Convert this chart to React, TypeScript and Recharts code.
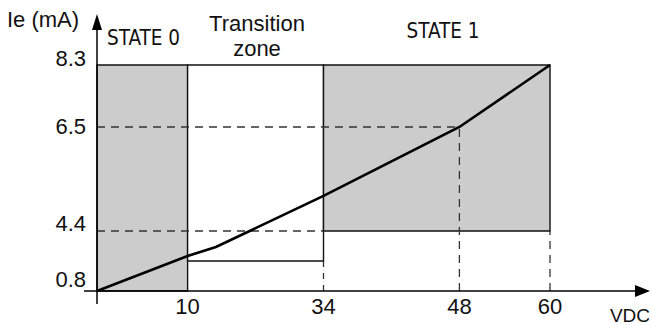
import React from "react";
import {
  ComposedChart,
  Line,
  XAxis,
  YAxis,
  ReferenceArea,
  ReferenceLine,
  ReferenceDot,
} from "recharts";

// Real values on the (schematic, non-linear) axes
const xBreaks = [0, 10, 34, 48, 60];
const xSlots = [0, 2, 5, 8, 10];
const yBreaks = [0.8, 4.4, 6.5, 8.3];
const ySlots = [0, 6, 16.4, 22.6];

const xTickLabels = [10, 34, 48, 60];
const yTickLabels = [0.8, 4.4, 6.5, 8.3];

// Current curve Ie vs VDC
const curveVdc = [0, 10, 15, 34, 48, 60];
const curveIe = [0.8, 2.9, 3.44, 5.11, 6.5, 8.3];

// zones
const state0 = { x1: 0, x2: 10, y1: 0.8, y2: 8.3 };
const transition = { x1: 10, x2: 34, y1: 2.6, y2: 8.3 };
const state1 = { x1: 34, x2: 60, y1: 4.4, y2: 8.3 };

function interp(v: number, from: number[], to: number[]) {
  for (let i = 0; i < from.length - 1; i++) {
    if (v <= from[i + 1] || i === from.length - 2) {
      const t = (v - from[i]) / (from[i + 1] - from[i]);
      return to[i] + t * (to[i + 1] - to[i]);
    }
  }
  return to[0];
}
const sx = (v: number) => interp(v, xBreaks, xSlots);
const sy = (v: number) => interp(v, yBreaks, ySlots);

const data = curveVdc.map((v, i) => ({ xs: sx(v), ys: sy(curveIe[i]) }));

const X_DOMAIN: [number, number] = [-0.287, 12.163];
const Y_DOMAIN: [number, number] = [-1.3, 27.7];

const numFont = "'Liberation Sans', Arial, Helvetica, sans-serif";
const narrowFont =
  "'Liberation Sans Narrow', 'Arial Narrow', 'DejaVu Sans Condensed', 'Roboto Condensed', sans-serif";
const FS = 22;

const dash = "8 6";
const dashColor = "#333";
const gray = "#cccccc";

const XTick = (props: any) => {
  const { x, y, payload } = props;
  const label = xTickLabels[xSlots.indexOf(payload.value) - 1];
  return (
    <text x={x} y={y + 10} textAnchor="middle" fontFamily={numFont} fontSize={FS} fill="#111">
      {label}
    </text>
  );
};

const yDy: Record<string, number> = { "0.8": -4, "4.4": 0, "6.5": 7, "8.3": 1 };
const YTick = (props: any) => {
  const { x, y, payload } = props;
  const label = yTickLabels[ySlots.indexOf(payload.value)];
  return (
    <text x={x + 2} y={y + (yDy[String(label)] ?? 0)} textAnchor="end" fontFamily={numFont} fontSize={FS} fill="#111">
      {label.toFixed(1)}
    </text>
  );
};

export default function App() {
  return (
    <div style={{ position: "absolute", left: 0, top: 0, background: "#fff" }}>
      <ComposedChart
        width={652}
        height={325}
        data={data}
        margin={{ top: 14, right: 4, bottom: 0, left: 0 }}
      >
        <XAxis
          dataKey="xs"
          type="number"
          domain={X_DOMAIN}
          allowDataOverflow
          ticks={xSlots.slice(1)}
          tick={<XTick />}
          axisLine={false}
          tickLine={false}
          tickSize={0}
          tickMargin={0}
          height={21}
          interval={0}
        />
        <YAxis
          type="number"
          domain={Y_DOMAIN}
          allowDataOverflow
          ticks={ySlots}
          tick={<YTick />}
          axisLine={false}
          tickLine={false}
          tickSize={0}
          tickMargin={0}
          width={84}
          interval={0}
        />
        <ReferenceArea
          x1={sx(state0.x1)} x2={sx(state0.x2)} y1={sy(state0.y1)} y2={sy(state0.y2)}
          fill={gray} fillOpacity={1} stroke="#111" strokeWidth={1.4}
        />
        <ReferenceArea
          x1={sx(transition.x1)} x2={sx(transition.x2)} y1={sy(transition.y1)} y2={sy(transition.y2)}
          fill="#fff" fillOpacity={1} stroke="#111" strokeWidth={1.4}
        />
        <ReferenceArea
          x1={sx(state1.x1)} x2={sx(state1.x2)} y1={sy(state1.y1)} y2={sy(state1.y2)}
          fill={gray} fillOpacity={1} stroke="#111" strokeWidth={1.4}
        />
        {/* dashed guides */}
        <ReferenceLine
          segment={[{ x: sx(0), y: sy(4.4) }, { x: sx(34), y: sy(4.4) }]}
          stroke={dashColor} strokeDasharray={dash} strokeWidth={1.3}
        />
        <ReferenceLine
          segment={[{ x: sx(0), y: sy(6.5) }, { x: sx(48), y: sy(6.5) }]}
          stroke={dashColor} strokeDasharray={dash} strokeWidth={1.3}
        />
        <ReferenceLine
          segment={[{ x: sx(48), y: sy(0.8) }, { x: sx(48), y: sy(6.5) }]}
          stroke={dashColor} strokeDasharray={dash} strokeWidth={1.3}
        />
        <ReferenceLine
          segment={[{ x: sx(60), y: sy(0.8) }, { x: sx(60), y: sy(4.4) }]}
          stroke={dashColor} strokeDasharray={dash} strokeWidth={1.3}
        />
        <ReferenceLine
          segment={[{ x: sx(34), y: sy(0.8) }, { x: sx(34), y: sy(2.6) }]}
          stroke={dashColor} strokeDasharray="6 6" strokeWidth={1.3}
        />
        {/* axes */}
        <ReferenceLine
          segment={[{ x: X_DOMAIN[0], y: 0 }, { x: 11.95, y: 0 }]}
          stroke="#000" strokeWidth={1.5} ifOverflow="visible"
        />
        <ReferenceLine
          segment={[{ x: 0, y: Y_DOMAIN[0] }, { x: 0, y: 26.6 }]}
          stroke="#000" strokeWidth={1.5} ifOverflow="visible"
        />
        <ReferenceDot
          x={X_DOMAIN[1]} y={0} r={0} ifOverflow="visible"
          shape={(p: any) => (
            <polygon points={`${p.cx + 2},${p.cy} ${p.cx - 13},${p.cy - 6} ${p.cx - 13},${p.cy + 6}`} fill="#000" />
          )}
        />
        <ReferenceDot
          x={0} y={Y_DOMAIN[1]} r={0} ifOverflow="visible"
          shape={(p: any) => (
            <polygon points={`${p.cx},${p.cy} ${p.cx - 5},${p.cy + 16} ${p.cx + 5},${p.cy + 16}`} fill="#000" />
          )}
        />
        <Line
          dataKey="ys"
          type="linear"
          stroke="#000"
          strokeWidth={2.6}
          dot={false}
          activeDot={false}
          isAnimationActive={false}
        />
        <text x={7} y={27} fontFamily={numFont} fontSize={FS} fill="#111">Ie (mA)</text>
        <text x={107} y={45} fontFamily={narrowFont} fontSize={20.5} fill="#111">STATE 0</text>
        <text x={257} y={31} textAnchor="middle" fontFamily={numFont} fontSize={FS} fill="#111">Transition</text>
        <text x={257} y={56} textAnchor="middle" fontFamily={numFont} fontSize={FS} fill="#111">zone</text>
        <text x={443} y={38} textAnchor="middle" fontFamily={narrowFont} fontSize={20.5} fill="#111">STATE 1</text>
        <text x={650} y={322} textAnchor="end" fontFamily={numFont} fontSize={19} fill="#111">VDC</text>
      </ComposedChart>
    </div>
  );
}
